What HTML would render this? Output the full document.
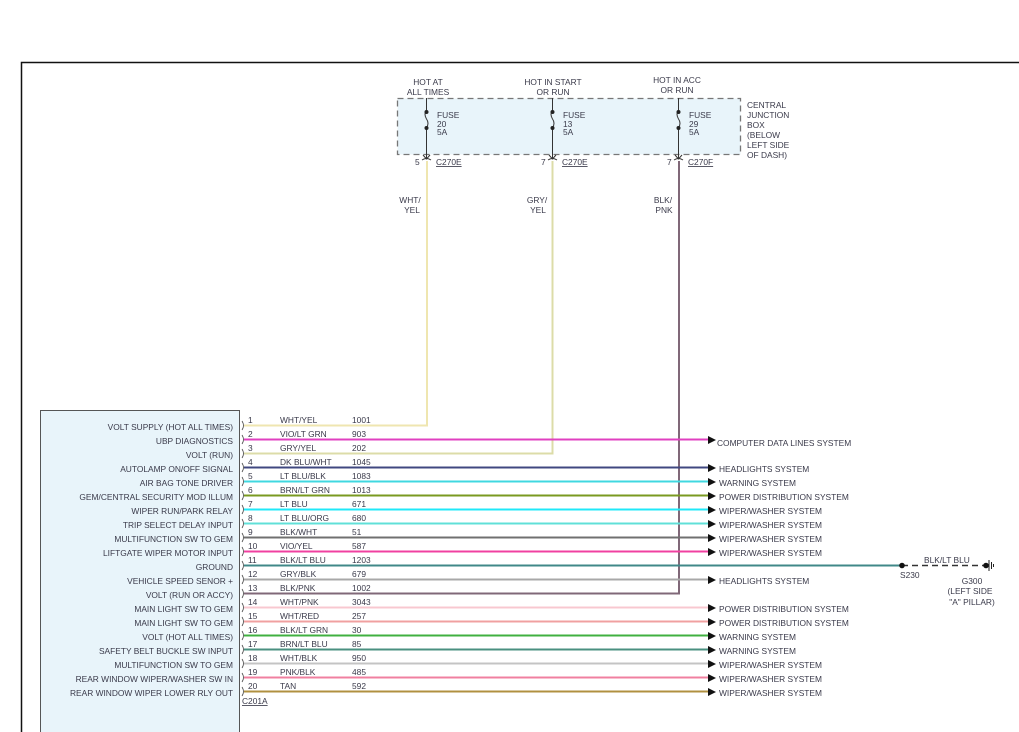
<!DOCTYPE html>
<html><head><meta charset="utf-8"><style>
html,body{margin:0;padding:0;background:#fff;}
svg{display:block;}
text{font-family:"Liberation Sans",sans-serif;font-size:8.4px;fill:#3a3a4a;}
.r{text-anchor:end;}
.m{text-anchor:middle;}
</style></head><body>
<svg width="1019" height="732" viewBox="0 0 1019 732" xmlns="http://www.w3.org/2000/svg">
<path d="M21.5 732 V62.5 H1019" fill="none" stroke="#111" stroke-width="1.5"/>
<rect x="397.5" y="98.5" width="343" height="56" fill="#e8f4fa" stroke="#777" stroke-width="1.3" stroke-dasharray="6,4"/>
<text class="m" x="428" y="85">HOT AT</text><text class="m" x="428" y="95">ALL TIMES</text>
<text class="m" x="553" y="85">HOT IN START</text><text class="m" x="553" y="95">OR RUN</text>
<text class="m" x="677" y="83">HOT IN ACC</text><text class="m" x="677" y="93">OR RUN</text>
<text x="747" y="108">CENTRAL</text><text x="747" y="118">JUNCTION</text><text x="747" y="128">BOX</text><text x="747" y="138">(BELOW</text><text x="747" y="148">LEFT SIDE</text><text x="747" y="158">OF DASH)</text>
<g stroke="#333" stroke-width="1" fill="none">
<path d="M426.5 98 V110 M426.5 128 V158 M426.5 110 q-3 4 0 9 q3 4 0 9 M423 155 l3.5 4 l3.5 -4 M422 160 q4.5 -3 9 0"/>
<path d="M552.5 98 V110 M552.5 128 V158 M552.5 110 q-3 4 0 9 q3 4 0 9 M549 155 l3.5 4 l3.5 -4 M548 160 q4.5 -3 9 0"/>
<path d="M678.5 98 V110 M678.5 128 V158 M678.5 110 q-3 4 0 9 q3 4 0 9 M675 155 l3.5 4 l3.5 -4 M674 160 q4.5 -3 9 0"/>
</g>
<g fill="#222"><circle cx="426.5" cy="112" r="2"/><circle cx="426.5" cy="128" r="2"/><circle cx="552.5" cy="112" r="2"/><circle cx="552.5" cy="128" r="2"/><circle cx="678.5" cy="112" r="2"/><circle cx="678.5" cy="128" r="2"/></g>
<text x="437" y="118">FUSE</text><text x="437" y="127">20</text><text x="437" y="135">5A</text>
<text x="563" y="118">FUSE</text><text x="563" y="127">13</text><text x="563" y="135">5A</text>
<text x="689" y="118">FUSE</text><text x="689" y="127">29</text><text x="689" y="135">5A</text>
<text x="415" y="165">5</text><text x="436" y="165" text-decoration="underline">C270E</text>
<text x="541" y="165">7</text><text x="562" y="165" text-decoration="underline">C270E</text>
<text x="667" y="165">7</text><text x="688" y="165" text-decoration="underline">C270F</text>
<text class="m" x="410" y="203">WHT/</text><text class="m" x="412" y="213">YEL</text>
<text class="m" x="537" y="203">GRY/</text><text class="m" x="538" y="213">YEL</text>
<text class="m" x="663" y="203">BLK/</text><text class="m" x="664" y="213">PNK</text>
<path d="M427 161 V425.5 H244" fill="none" stroke="#efe6b0" stroke-width="2"/>
<path d="M552.5 161 V453.5 H244" fill="none" stroke="#dcdca8" stroke-width="2"/>
<path d="M679 161 V593.5 H244" fill="none" stroke="#806878" stroke-width="2"/>
<rect x="40.5" y="410.5" width="199" height="330" fill="#e8f4fa" stroke="#555" stroke-width="1"/>
<g>
<text class="r" x="233" y="430">VOLT SUPPLY (HOT ALL TIMES)</text>
<text class="r" x="233" y="444">UBP DIAGNOSTICS</text>
<text class="r" x="233" y="458">VOLT (RUN)</text>
<text class="r" x="233" y="472">AUTOLAMP ON/OFF SIGNAL</text>
<text class="r" x="233" y="486">AIR BAG TONE DRIVER</text>
<text class="r" x="233" y="500">GEM/CENTRAL SECURITY MOD ILLUM</text>
<text class="r" x="233" y="514">WIPER RUN/PARK RELAY</text>
<text class="r" x="233" y="528">TRIP SELECT DELAY INPUT</text>
<text class="r" x="233" y="542">MULTIFUNCTION SW TO GEM</text>
<text class="r" x="233" y="556">LIFTGATE WIPER MOTOR INPUT</text>
<text class="r" x="233" y="570">GROUND</text>
<text class="r" x="233" y="584">VEHICLE SPEED SENOR +</text>
<text class="r" x="233" y="598">VOLT (RUN OR ACCY)</text>
<text class="r" x="233" y="612">MAIN LIGHT SW TO GEM</text>
<text class="r" x="233" y="626">MAIN LIGHT SW TO GEM</text>
<text class="r" x="233" y="640">VOLT (HOT ALL TIMES)</text>
<text class="r" x="233" y="654">SAFETY BELT BUCKLE SW INPUT</text>
<text class="r" x="233" y="668">MULTIFUNCTION SW TO GEM</text>
<text class="r" x="233" y="682">REAR WINDOW WIPER/WASHER SW IN</text>
<text class="r" x="233" y="696">REAR WINDOW WIPER LOWER RLY OUT</text>
</g>
<g stroke-width="2" fill="none">
<path d="M244 439.5 H708" stroke="#e040c0"/>
<path d="M244 467.5 H708" stroke="#404880"/>
<path d="M244 481.5 H708" stroke="#40d8e0"/>
<path d="M244 495.5 H708" stroke="#7a9a20"/>
<path d="M244 509.5 H708" stroke="#20e8f8"/>
<path d="M244 523.5 H708" stroke="#60e0d8"/>
<path d="M244 537.5 H708" stroke="#707070"/>
<path d="M244 551.5 H708" stroke="#f040a0"/>
<path d="M244 565.5 H900" stroke="#408888"/>
<path d="M244 579.5 H708" stroke="#a8a8a8"/>
<path d="M244 607.5 H708" stroke="#f8c8d0"/>
<path d="M244 621.5 H708" stroke="#f0a0a0"/>
<path d="M244 635.5 H708" stroke="#40b040"/>
<path d="M244 649.5 H708" stroke="#4a9080"/>
<path d="M244 663.5 H708" stroke="#c4c4c4"/>
<path d="M244 677.5 H708" stroke="#f080a0"/>
<path d="M244 691.5 H708" stroke="#b09040"/>
</g>
<g stroke="#444" stroke-width="0.8" fill="none">
<path d="M242 421 q3 4.5 0 9 M242 435 q3 4.5 0 9 M242 449 q3 4.5 0 9 M242 463 q3 4.5 0 9 M242 477 q3 4.5 0 9 M242 491 q3 4.5 0 9 M242 505 q3 4.5 0 9 M242 519 q3 4.5 0 9 M242 533 q3 4.5 0 9 M242 547 q3 4.5 0 9 M242 561 q3 4.5 0 9 M242 575 q3 4.5 0 9 M242 589 q3 4.5 0 9 M242 603 q3 4.5 0 9 M242 617 q3 4.5 0 9 M242 631 q3 4.5 0 9 M242 645 q3 4.5 0 9 M242 659 q3 4.5 0 9 M242 673 q3 4.5 0 9 M242 687 q3 4.5 0 9"/>
</g>
<text x="242" y="704" text-decoration="underline">C201A</text>
<g>
<text x="248" y="423">1</text><text x="280" y="423">WHT/YEL</text><text x="352" y="423">1001</text>
<text x="248" y="437">2</text><text x="280" y="437">VIO/LT GRN</text><text x="352" y="437">903</text>
<text x="248" y="451">3</text><text x="280" y="451">GRY/YEL</text><text x="352" y="451">202</text>
<text x="248" y="465">4</text><text x="280" y="465">DK BLU/WHT</text><text x="352" y="465">1045</text>
<text x="248" y="479">5</text><text x="280" y="479">LT BLU/BLK</text><text x="352" y="479">1083</text>
<text x="248" y="493">6</text><text x="280" y="493">BRN/LT GRN</text><text x="352" y="493">1013</text>
<text x="248" y="507">7</text><text x="280" y="507">LT BLU</text><text x="352" y="507">671</text>
<text x="248" y="521">8</text><text x="280" y="521">LT BLU/ORG</text><text x="352" y="521">680</text>
<text x="248" y="535">9</text><text x="280" y="535">BLK/WHT</text><text x="352" y="535">51</text>
<text x="248" y="549">10</text><text x="280" y="549">VIO/YEL</text><text x="352" y="549">587</text>
<text x="248" y="563">11</text><text x="280" y="563">BLK/LT BLU</text><text x="352" y="563">1203</text>
<text x="248" y="577">12</text><text x="280" y="577">GRY/BLK</text><text x="352" y="577">679</text>
<text x="248" y="591">13</text><text x="280" y="591">BLK/PNK</text><text x="352" y="591">1002</text>
<text x="248" y="605">14</text><text x="280" y="605">WHT/PNK</text><text x="352" y="605">3043</text>
<text x="248" y="619">15</text><text x="280" y="619">WHT/RED</text><text x="352" y="619">257</text>
<text x="248" y="633">16</text><text x="280" y="633">BLK/LT GRN</text><text x="352" y="633">30</text>
<text x="248" y="647">17</text><text x="280" y="647">BRN/LT BLU</text><text x="352" y="647">85</text>
<text x="248" y="661">18</text><text x="280" y="661">WHT/BLK</text><text x="352" y="661">950</text>
<text x="248" y="675">19</text><text x="280" y="675">PNK/BLK</text><text x="352" y="675">485</text>
<text x="248" y="689">20</text><text x="280" y="689">TAN</text><text x="352" y="689">592</text>
</g>
<g fill="#111">
<path d="M708 436 l8 4 l-8 4z"/>
<path d="M708 464 l8 4 l-8 4z"/>
<path d="M708 478 l8 4 l-8 4z"/>
<path d="M708 492 l8 4 l-8 4z"/>
<path d="M708 506 l8 4 l-8 4z"/>
<path d="M708 520 l8 4 l-8 4z"/>
<path d="M708 534 l8 4 l-8 4z"/>
<path d="M708 548 l8 4 l-8 4z"/>
<path d="M708 576 l8 4 l-8 4z"/>
<path d="M708 604 l8 4 l-8 4z"/>
<path d="M708 618 l8 4 l-8 4z"/>
<path d="M708 632 l8 4 l-8 4z"/>
<path d="M708 646 l8 4 l-8 4z"/>
<path d="M708 660 l8 4 l-8 4z"/>
<path d="M708 674 l8 4 l-8 4z"/>
<path d="M708 688 l8 4 l-8 4z"/>
</g>
<g>
<text x="717" y="446">COMPUTER DATA LINES SYSTEM</text>
<text x="719" y="472">HEADLIGHTS SYSTEM</text>
<text x="719" y="486">WARNING SYSTEM</text>
<text x="719" y="500">POWER DISTRIBUTION SYSTEM</text>
<text x="719" y="514">WIPER/WASHER SYSTEM</text>
<text x="719" y="528">WIPER/WASHER SYSTEM</text>
<text x="719" y="542">WIPER/WASHER SYSTEM</text>
<text x="719" y="556">WIPER/WASHER SYSTEM</text>
<text x="719" y="584">HEADLIGHTS SYSTEM</text>
<text x="719" y="612">POWER DISTRIBUTION SYSTEM</text>
<text x="719" y="626">POWER DISTRIBUTION SYSTEM</text>
<text x="719" y="640">WARNING SYSTEM</text>
<text x="719" y="654">WARNING SYSTEM</text>
<text x="719" y="668">WIPER/WASHER SYSTEM</text>
<text x="719" y="682">WIPER/WASHER SYSTEM</text>
<text x="719" y="696">WIPER/WASHER SYSTEM</text>
</g>
<path d="M902 565.5 H985" stroke="#333" stroke-width="1.5" stroke-dasharray="6,4" fill="none"/>
<circle cx="902" cy="565.5" r="2.8" fill="#111"/>
<circle cx="986" cy="565.5" r="2.8" fill="#111"/>
<path d="M989 560 V571 M991.5 562 V569 M993.5 564 V567" stroke="#222" stroke-width="1"/>
<text x="924" y="563">BLK/LT BLU</text>
<text x="900" y="578">S230</text>
<text class="m" x="972" y="584">G300</text>
<text class="m" x="970" y="594">(LEFT SIDE</text>
<text class="m" x="972" y="605">"A" PILLAR)</text>
</svg>
</body></html>
